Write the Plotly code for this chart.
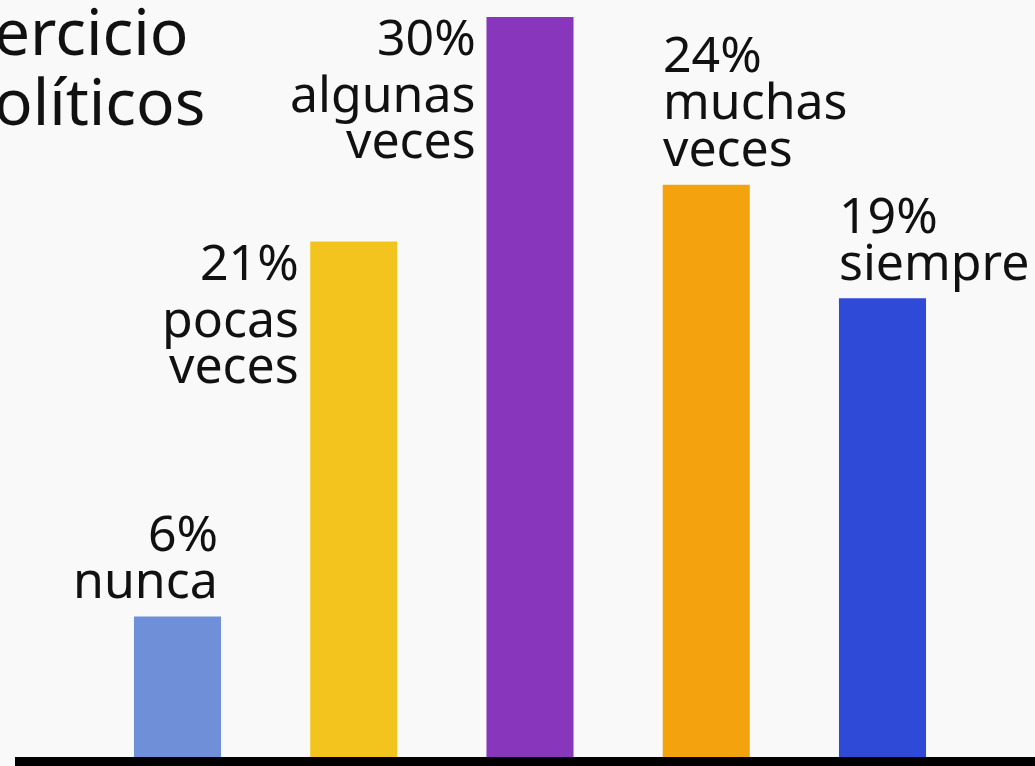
import plotly.graph_objects as go

categories = ['nunca', 'pocas veces', 'algunas veces', 'muchas veces', 'siempre']
values = [5.7, 20.9, 30.0, 23.2, 18.6]
pct_labels = ['6%', '21%', '30%', '24%', '19%']
label_lines = [['nunca'], ['pocas', 'veces'], ['algunas', 'veces'], ['muchas', 'veces'], ['siempre']]
colors = ['#6f8fd9', '#f3c41e', '#8837bd', '#f4a30e', '#304ad8']
title_lines = ['ercicio', 'olíticos']

# label placement per bar (style only)
label_side = ['above_right', 'left', 'left', 'above_left', 'above_left']

W, H = 1035, 766
FONT = 'Noto Sans'
FS = 50          # label font size
TFS = 64         # title font size
BG = '#f9f9f9'
INK = '#111111'

px_per_unit = 24.67
base_px = 757                      # y pixel of value 0
px_per_cat = 176.25
first_center = 177.5

fig = go.Figure()
fig.add_trace(go.Bar(
    x=list(range(len(categories))), y=values, marker_color=colors,
    marker_line_width=0, width=0.494, hoverinfo='skip',
    customdata=categories,
))


def line_ann(i, text, base_off, side):
    # base_off: baseline offset in px from the bar top (downwards positive)
    center_off = base_off - 0.39 * FS
    if side == 'above_right':
        xanchor, xshift = 'right', 87 / 2 - 1
    elif side == 'left':
        xanchor, xshift = 'right', -87 / 2 - 9
    else:
        xanchor, xshift = 'left', -87 / 2 - 2
    return dict(x=i, y=values[i], xref='x', yref='y', text=text,
                showarrow=False, xanchor=xanchor, yanchor='middle',
                xshift=xshift, yshift=-center_off,
                font=dict(family=FONT, size=FS, color=INK))


annotations = []
for i, side in enumerate(label_side):
    lines = [pct_labels[i]] + label_lines[i]
    if side == 'left':
        offs = [39, 96, 142][:len(lines)]
    else:
        n = len(lines)
        offs = [-18 - 47 * (n - 1 - k) for k in range(n)]
    for t, o in zip(lines, offs):
        annotations.append(line_ann(i, t, o, side))

for k, t in enumerate(title_lines):
    base = 55 + 70 * k
    annotations.append(dict(
        x=0, y=1, xref='paper', yref='paper', text=t, showarrow=False,
        xanchor='left', yanchor='middle', xshift=-8,
        yshift=-(base - 0.39 * TFS),
        font=dict(family=FONT, size=TFS, color=INK)))

# thick black baseline
shapes = [dict(type='rect', xref='paper', yref='paper',
               x0=15 / W, x1=1, y0=0, y1=(H - base_px) / H,
               fillcolor='#000000', line_width=0, layer='above')]

fig.update_layout(
    width=W, height=H,
    margin=dict(l=0, r=0, t=0, b=0),
    paper_bgcolor=BG, plot_bgcolor=BG,
    showlegend=False,
    xaxis=dict(range=[-first_center / px_per_cat, (W - first_center) / px_per_cat],
               visible=False, fixedrange=True),
    yaxis=dict(range=[-(H - base_px) / px_per_unit, base_px / px_per_unit],
               visible=False, fixedrange=True),
    annotations=annotations,
    shapes=shapes,
)

# drop the page's default body margin so the figure sits at the corner
fig.write_html('out.html', config={'displayModeBar': False},
               post_script="document.body.style.margin='0';document.body.style.background='%s';" % BG)
